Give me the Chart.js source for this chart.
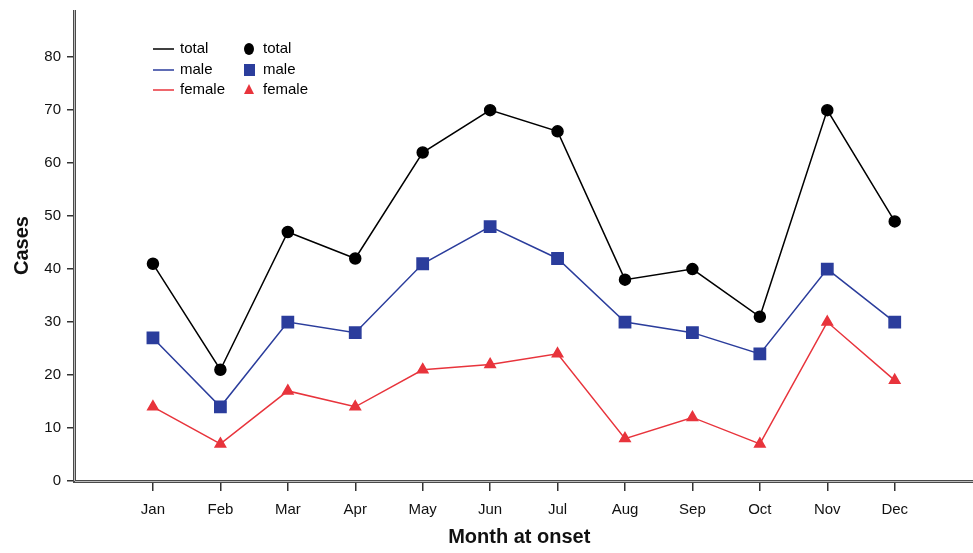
<!DOCTYPE html>
<html>
<head>
<meta charset="utf-8">
<script src="https://cdn.jsdelivr.net/npm/chart.js@4"></script>
<style>
  html, body { margin: 0; padding: 0; background: #fff; overflow: hidden; }
  #wrap { width: 973px; height: 553px; position: relative; }
  canvas { display: block; }
</style>
</head>
<body>
<div id="wrap"><canvas id="chart"></canvas></div>
<script>
const months = ['Jan', 'Feb', 'Mar', 'Apr', 'May', 'Jun', 'Jul', 'Aug', 'Sep', 'Oct', 'Nov', 'Dec'];
const totalCases = [41, 21, 47, 42, 62, 70, 66, 38, 40, 31, 70, 49];
const maleCases = [27, 14, 30, 28, 41, 48, 42, 30, 28, 24, 40, 30];
const femaleCases = [14, 7, 17, 14, 21, 22, 24, 8, 12, 7, 30, 19];
const yTicks = [0, 10, 20, 30, 40, 50, 60, 70, 80];

const FONT = "'Liberation Sans Narrow', 'Liberation Sans', Arial, sans-serif";

function toPoints(values) {
    return values.map((v, i) => ({ x: i, y: v }));
}

// legend drawn by hand: line samples in one column, markers in another
const legendPlugin = {
    id: 'twoColLegend',
    afterDraw(chart) {
        const ctx = chart.ctx;
        const rows = [
            { label: 'total', color: '#000000', style: 'circle', y: 49 },
            { label: 'male', color: '#2b3d9c', style: 'rect', y: 70 },
            { label: 'female', color: '#e8343c', style: 'triangle', y: 90 }
        ];
        ctx.save();
        ctx.font = '15px ' + FONT;
        ctx.textBaseline = 'middle';
        rows.forEach(r => {
            ctx.strokeStyle = r.color;
            ctx.lineWidth = 1.5;
            ctx.beginPath();
            ctx.moveTo(153, r.y);
            ctx.lineTo(174, r.y);
            ctx.stroke();
            ctx.fillStyle = '#000';
            ctx.fillText(r.label, 180, r.y);
            ctx.fillStyle = r.color;
            ctx.beginPath();
            if (r.style === 'circle') {
                ctx.ellipse(249, r.y, 5, 6, 0, 0, Math.PI * 2);
            } else if (r.style === 'rect') {
                ctx.rect(244, r.y - 6, 11, 12);
            } else {
                ctx.moveTo(249, r.y - 6);
                ctx.lineTo(254, r.y + 4);
                ctx.lineTo(244, r.y + 4);
                ctx.closePath();
            }
            ctx.fill();
            ctx.fillStyle = '#000';
            ctx.fillText(r.label, 263, r.y);
        });
        ctx.restore();
    }
};

// the thick grey axis lines, x axis runs to the canvas edge
const axisPlugin = {
    id: 'axisLines',
    afterDraw(chart) {
        const ctx = chart.ctx;
        const a = chart.chartArea;
        ctx.save();
        ctx.fillStyle = '#4a4a4a';
        ctx.fillRect(a.left - 2, a.top, 3, a.bottom - a.top + 2);
        ctx.fillRect(a.left - 2, a.bottom - 1, chart.width - a.left + 2, 3);
        ctx.fillStyle = '#bcbcbc';
        ctx.fillRect(a.left - 1, a.top, 1, a.bottom - a.top);
        ctx.fillRect(a.left, a.bottom, chart.width - a.left, 1);
        ctx.restore();
    }
};

const ctx = document.getElementById('chart').getContext('2d');
new Chart(ctx, {
    type: 'line',
    data: {
        datasets: [
            {
                label: 'total',
                data: toPoints(totalCases),
                borderColor: '#000000',
                backgroundColor: '#000000',
                borderWidth: 1.5,
                pointStyle: 'circle',
                pointRadius: 5.5,
                tension: 0
            },
            {
                label: 'male',
                data: toPoints(maleCases),
                borderColor: '#2b3d9c',
                backgroundColor: '#2b3d9c',
                borderWidth: 1.5,
                pointStyle: 'rect',
                pointRadius: 8,
                tension: 0
            },
            {
                label: 'female',
                data: toPoints(femaleCases),
                borderColor: '#e8343c',
                backgroundColor: '#e8343c',
                borderWidth: 1.5,
                pointStyle: 'triangle',
                pointRadius: 6,
                tension: 0
            }
        ]
    },
    options: {
        responsive: true,
        maintainAspectRatio: false,
        animation: false,
        layout: { padding: { top: 10, right: 0, left: 0, bottom: 0 } },
        plugins: {
            legend: { display: false },
            tooltip: { enabled: false }
        },
        scales: {
            x: {
                type: 'linear',
                min: -1.156,
                max: 12.02,
                afterBuildTicks: (scale) => {
                    scale.ticks = months.map((m, i) => ({ value: i }));
                },
                afterFit: (scale) => {
                    scale.height = 72;
                    scale.paddingLeft = 0;
                    scale.paddingRight = 0;
                },
                border: { display: false },
                grid: { drawOnChartArea: false, drawTicks: true, tickLength: 10, color: '#333', lineWidth: 1.5 },
                ticks: {
                    autoSkip: false,
                    maxRotation: 0,
                    padding: 10,
                    color: '#111',
                    font: { family: FONT, size: 15 },
                    callback: (v) => months[v]
                },
                title: {
                    display: true,
                    text: 'Month at onset',
                    color: '#111',
                    font: { family: FONT, size: 20, weight: 'bold' },
                    padding: { top: 4 }
                }
            },
            y: {
                min: 0,
                max: 88.9,
                afterBuildTicks: (scale) => {
                    scale.ticks = yTicks.map(v => ({ value: v }));
                },
                afterFit: (scale) => {
                    scale.width = 75;
                    scale.paddingTop = 0;
                    scale.paddingBottom = 0;
                },
                border: { display: false },
                grid: { drawOnChartArea: false, drawTicks: true, tickLength: 8, color: '#333', lineWidth: 1.5 },
                ticks: {
                    padding: 6,
                    color: '#111',
                    font: { family: FONT, size: 15 }
                },
                title: {
                    display: true,
                    text: 'Cases',
                    color: '#111',
                    font: { family: FONT, size: 20, weight: 'bold' },
                    padding: { top: 10, bottom: 0 }
                }
            }
        }
    },
    plugins: [legendPlugin, axisPlugin]
});
</script>
</body>
</html>
